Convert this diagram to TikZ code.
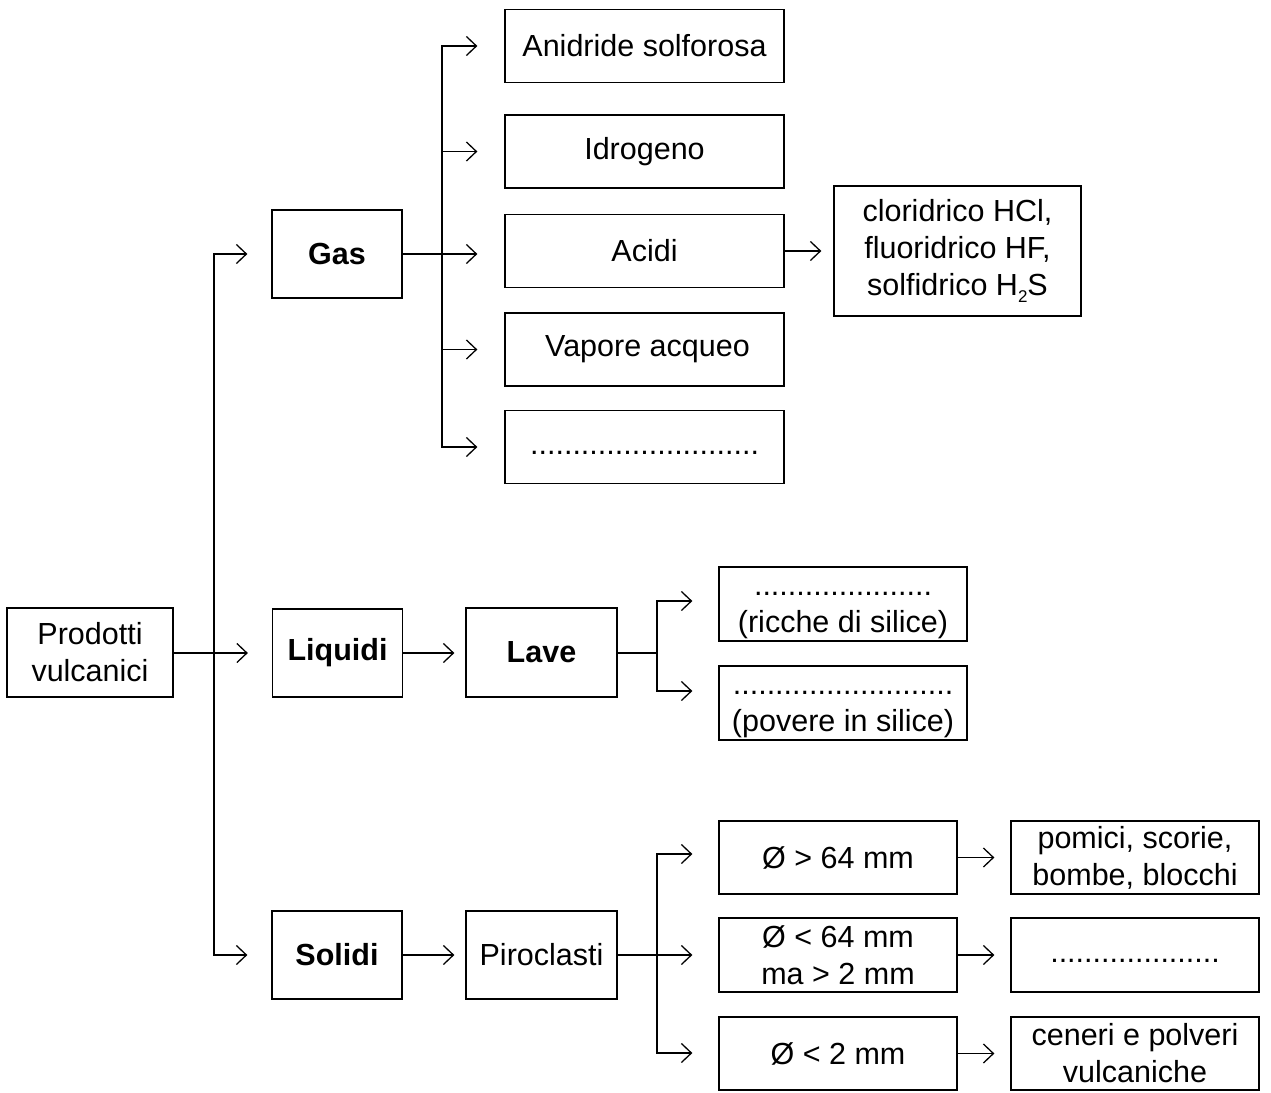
\documentclass[tikz,border=0pt]{standalone}
\usepackage{fontspec}
\setmainfont{Liberation Sans}
\usetikzlibrary{arrows.meta}
\begin{document}
\begin{tikzpicture}[x=1pt,y=-1pt,
  box/.style={draw,line width=1.3pt,inner sep=0pt,align=center,font=\fontsize{30.5}{37}\selectfont},
  bbox/.style={box,font=\fontsize{30.5}{37}\selectfont\bfseries},
  con/.style={line width=1.3pt},
  arr/.style={con,-{Straight Barb[length=10pt,width=19pt,line width=1.3pt]}},
]
\useasboundingbox (0,0) rectangle (1271,1092);
\fill[white] (0,0) rectangle (1271,1092);
% main nodes
\node[box,minimum width=166,minimum height=89] (prod) at (90,652.5) {Prodotti\\vulcanici};
\node[bbox,minimum width=130,minimum height=88] (gas) at (337,254) {Gas};
\node[bbox,minimum width=130,minimum height=88] (liq) at (337.5,653) {Liquidi};
\node[bbox,minimum width=130,minimum height=88] (sol) at (337,955) {Solidi};
% gas children
\node[box,minimum width=279,minimum height=73] (anid) at (644.5,46) {Anidride solforosa};
\node[box,minimum width=279,minimum height=73] (idro) at (644.5,151.5) {Idrogeno};
\node[box,minimum width=279,minimum height=73] (acid) at (644.5,251) {Acidi};
\node[box,minimum width=279,minimum height=73] (vap) at (644.5,349.5) {\hspace{6pt}Vapore acqueo};
\node[box,minimum width=279,minimum height=73] (gdot) at (644.5,447) {\strut...........................};
\node[box,minimum width=247,minimum height=130] (clor) at (957.5,251) {cloridrico HCl,\\fluoridrico HF,\\solfidrico H\raisebox{-7pt}{\fontsize{17}{17}\selectfont 2}S};
% liquids
\node[bbox,minimum width=151,minimum height=89] (lave) at (541.5,652.5) {Lave};
\node[box,minimum width=248,minimum height=74] (ric) at (843,604) {\strut.....................\\(ricche di silice)};
\node[box,minimum width=248,minimum height=74] (pov) at (843,703) {\strut..........................\\(povere in silice)};
% solids
\node[box,minimum width=151,minimum height=88] (piro) at (541.5,955) {Piroclasti};
\node[box,minimum width=238,minimum height=73] (s1) at (838,857.5) {Ø > 64 mm};
\node[box,minimum width=238,minimum height=74] (s2) at (838,955) {Ø < 64 mm\\ma > 2 mm};
\node[box,minimum width=238,minimum height=73] (s3) at (838,1053.5) {Ø < 2 mm};
\node[box,minimum width=248,minimum height=73] (r1) at (1135,857.5) {pomici, scorie,\\bombe, blocchi};
\node[box,minimum width=248,minimum height=74] (r2) at (1135,955) {\strut....................};
\node[box,minimum width=248,minimum height=73] (r3) at (1135,1053.5) {ceneri e polveri\\vulcaniche};
% branch points
\coordinate (t) at (214,653);
\coordinate (g) at (442,254);
\coordinate (l) at (657,653);
\coordinate (p) at (657,955);
% trunk
\draw[con] (prod.east |- t) -- (t);
\draw[arr,shorten >=24pt] (t) -- (t -| liq.west);
\draw[arr,shorten >=24pt] (t) |- (gas.west);
\draw[arr,shorten >=24pt] (t) |- (sol.west);
% gas
\draw[con] (gas.east) -- (g);
\draw[arr,shorten >=27pt] (g) -- (g -| acid.west);
\draw[arr,shorten >=27pt] (g) |- (anid.west);
\draw[arr,shorten >=27pt] (g) |- (idro.west);
\draw[arr,shorten >=27pt] (g) |- (vap.west);
\draw[arr,shorten >=27pt] (g) |- (gdot.west);
\draw[arr,shorten >=12pt] (acid.east) -- (clor.west);
% liquids
\draw[arr,shorten >=11pt] (liq.east |- t) -- (t -| lave.west);
\draw[con] (lave.east |- l) -- (l);
\draw[arr,shorten >=26pt] (l) |- ([yshift=3pt]ric.west);
\draw[arr,shorten >=26pt] (l) |- ([yshift=12pt]pov.west);
% solids
\draw[arr,shorten >=11pt] (sol.east) -- (piro.west);
\draw[arr,shorten >=26pt] (piro.east) -- (s2.west);
\draw[arr,shorten >=26pt] (p) |- ([yshift=3.5pt]s1.west);
\draw[arr,shorten >=26pt] (p) |- ([yshift=0.5pt]s3.west);
\draw[arr,shorten >=16pt] (s1.east) -- (r1.west);
\draw[arr,shorten >=16pt] (s2.east) -- (r2.west);
\draw[arr,shorten >=16pt] (s3.east) -- (r3.west);
\end{tikzpicture}
\end{document}
